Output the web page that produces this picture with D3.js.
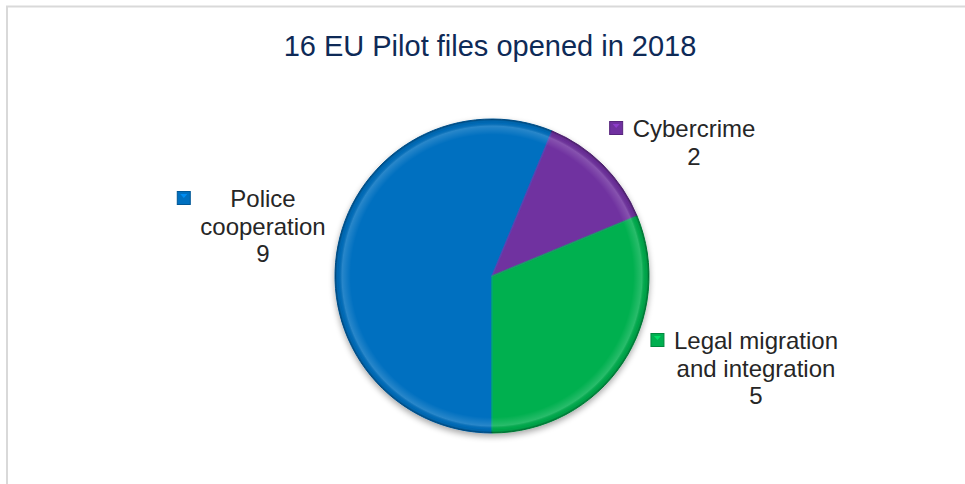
<!DOCTYPE html>
<html>
<head>
<meta charset="utf-8">
<script src="https://cdn.jsdelivr.net/npm/d3@7/dist/d3.min.js"></script>
<style>
  html, body { margin: 0; padding: 0; background: #ffffff; }
  svg { display: block; }
</style>
</head>
<body>
<svg id="chart" width="965" height="484"></svg>
<script>
// ---- data ----
const title = "16 EU Pilot files opened in 2018";
const categories = ["Police cooperation", "Cybercrime", "Legal migration and integration"];
const values = [9, 2, 5];
const labelLines = [["Police", "cooperation"], ["Cybercrime"], ["Legal migration", "and integration"]];
const colors = ["#0070c0", "#7030a0", "#00b050"];

// ---- layout (not data) ----
const W = 965, H = 484;
const cx = 492, cy = 276, R = 157;
const labelAnchors = [ {x: 263, y: 207}, {x: 694, y: 137}, {x: 756, y: 349} ];
const lineH = 27.5;

const svg = d3.select("#chart");
const defs = svg.append("defs");

// drop shadow
const sh = defs.append("filter").attr("id", "shadow").attr("x", "-20%").attr("y", "-20%").attr("width", "140%").attr("height", "140%");
sh.append("feGaussianBlur").attr("in", "SourceAlpha").attr("stdDeviation", 3).attr("result", "b");
sh.append("feOffset").attr("in", "b").attr("dx", 0).attr("dy", 3).attr("result", "o");
sh.append("feComponentTransfer").attr("in", "o").attr("result", "o2")
  .append("feFuncA").attr("type", "linear").attr("slope", 0.35);
const shm = sh.append("feMerge");
shm.append("feMergeNode").attr("in", "o2");
shm.append("feMergeNode").attr("in", "SourceGraphic");

// rim bevel gradient
const rg = defs.append("radialGradient").attr("id", "rim").attr("gradientUnits", "userSpaceOnUse")
  .attr("cx", cx).attr("cy", cy).attr("r", R);
rg.append("stop").attr("offset", 0.90).attr("stop-color", "#fff").attr("stop-opacity", 0);
rg.append("stop").attr("offset", 0.955).attr("stop-color", "#fff").attr("stop-opacity", 0.16);
rg.append("stop").attr("offset", 0.975).attr("stop-color", "#000").attr("stop-opacity", 0.04);
rg.append("stop").attr("offset", 1).attr("stop-color", "#000").attr("stop-opacity", 0.32);

// frame
svg.append("path")
  .attr("d", `M7,${H} L7,6.5 L${W},6.5`)
  .attr("fill", "none").attr("stroke", "#d9d9d9").attr("stroke-width", 2);

// title
svg.append("text")
  .attr("x", 490).attr("y", 56)
  .attr("text-anchor", "middle")
  .attr("font-family", "'Liberation Sans', Arial, sans-serif")
  .attr("font-size", 29)
  .attr("fill", "#0e2a57")
  .text(title);

// pie
const pie = d3.pie().sort(null).startAngle(Math.PI).endAngle(3 * Math.PI)(values);
const arc = d3.arc().innerRadius(0).outerRadius(R);
const arcIn = d3.arc().innerRadius(0).outerRadius(R - 2);

const g = svg.append("g").attr("transform", `translate(${cx},${cy})`);
const pieG = g.append("g").attr("filter", "url(#shadow)");
pieG.selectAll("path.slice")
  .data(pie)
  .join("path")
  .attr("class", "slice")
  .attr("d", arc)
  .attr("fill", (d, i) => colors[i])
  .attr("stroke", (d, i) => d3.color(colors[i]).darker(0.6))
  .attr("stroke-width", 1);

// subtle inner highlight along slice edges
g.selectAll("path.hl")
  .data(pie)
  .join("path")
  .attr("class", "hl")
  .attr("d", arcIn)
  .attr("fill", "none")
  .attr("stroke", (d, i) => d3.color(colors[i]).brighter(0.6))
  .attr("stroke-opacity", 0.35)
  .attr("stroke-width", 1.5);

// rim bevel
svg.append("circle").attr("cx", cx).attr("cy", cy).attr("r", R)
  .attr("fill", "url(#rim)").attr("pointer-events", "none");

// labels
const lab = svg.append("g")
  .attr("font-family", "'Liberation Sans', Arial, sans-serif")
  .attr("font-size", 24)
  .attr("fill", "#262626");

categories.forEach((cat, i) => {
  const a = labelAnchors[i];
  const lines = labelLines[i].concat([String(values[i])]);
  const t = lab.append("text").attr("text-anchor", "middle");
  let minLeft = Infinity;
  lines.forEach((ln, j) => {
    const ts = t.append("tspan").attr("x", a.x).attr("y", a.y + j * lineH).text(ln);
    const w = ts.node().getComputedTextLength();
    minLeft = Math.min(minLeft, a.x - w / 2);
  });
  // legend key
  const kx = minLeft - 10 - 13, ky = a.y - 15.5;
  const c = d3.color(colors[i]);
  lab.append("rect").attr("x", kx).attr("y", ky).attr("width", 13).attr("height", 13)
    .attr("fill", colors[i]).attr("stroke", c.darker(0.7)).attr("stroke-width", 1);
  lab.append("path")
    .attr("d", `M${kx + 3},${ky + 2.5} L${kx + 10},${ky + 2.5} L${kx + 6.5},${ky + 6.5} Z`)
    .attr("fill", c.brighter(0.8)).attr("opacity", 0.8);
});
</script>
</body>
</html>
